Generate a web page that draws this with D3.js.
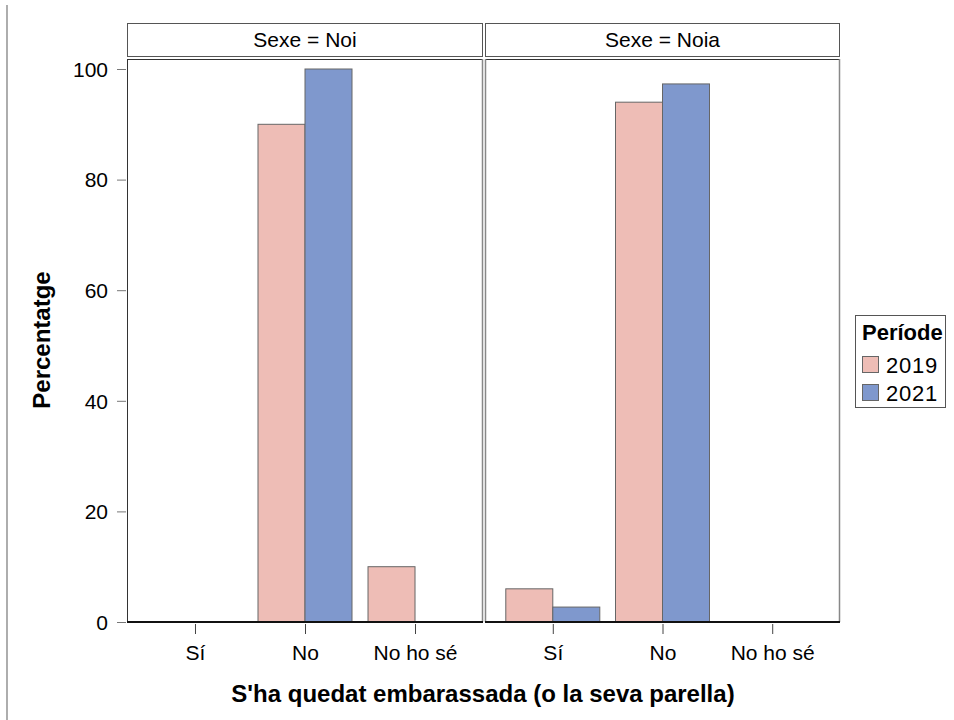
<!DOCTYPE html>
<html><head><meta charset="utf-8">
<script src="https://cdn.jsdelivr.net/npm/d3@7"></script>
<style>body{margin:0;background:#fff}svg{display:block;font-family:"Liberation Sans",Arial,sans-serif}</style>
</head><body><svg id="c" width="954" height="720"></svg>
<script>
const categories = ["Sí", "No", "No ho sé"];
const periods = ["2019", "2021"];
const panels = ["Noi", "Noia"];
const values2019 = { "Noi": [0, 90, 10], "Noia": [6, 94, 0] };
const values2021 = { "Noi": [0, 100, 0], "Noia": [2.7, 97.3, 0] };
const yTicks = [0, 20, 40, 60, 80, 100];
const colors = ["#EEBDB6", "#7F98CD"];

const svg = d3.select("#c");
const top0 = 59, bottom0 = 622;
const y = d3.scaleLinear().domain([0, 100]).range([622, 69]);
const color = d3.scaleOrdinal().domain(periods).range(colors);
const panelX = [[127, 483], [485, 840]];

// page left line
svg.append("line").attr("x1", 7).attr("x2", 7).attr("y1", 5).attr("y2", 720).attr("stroke", "#777").attr("stroke-width", 1.2);

panels.forEach((p, i) => {
  const [l, r] = panelX[i];
  const x0 = d3.scalePoint().domain(categories).range([l, r]).padding(0.618);
  const x1 = d3.scaleBand().domain(periods).range([-47, 47]);
  const g = svg.append("g");
  // strip header
  g.append("rect").attr("x", l + 0.5).attr("y", 23.5).attr("width", r - l - 1).attr("height", 33)
    .attr("fill", "#fff").attr("stroke", "#555").attr("stroke-width", 1);
  g.append("text").attr("x", (l + r) / 2).attr("y", 47).attr("text-anchor", "middle")
    .attr("font-size", 21).attr("fill", "#000").text("Sexe = " + p);
  // bars
  const data = [];
  categories.forEach((c, k) => {
    data.push({ c, period: "2019", v: values2019[p][k] });
    data.push({ c, period: "2021", v: values2021[p][k] });
  });
  g.selectAll("rect.bar").data(data.filter(d => d.v > 0)).join("rect").attr("class", "bar")
    .attr("x", d => x0(d.c) + x1(d.period))
    .attr("width", x1.bandwidth())
    .attr("y", d => y(d.v))
    .attr("height", d => y(0) - y(d.v))
    .attr("fill", d => color(d.period))
    .attr("stroke", "#666").attr("stroke-width", 1);
  // panel border
  g.append("line").attr("x1", l).attr("x2", r).attr("y1", top0 + 0.5).attr("y2", top0 + 0.5).attr("stroke", "#333");
  g.append("line").attr("x1", l + 0.5).attr("x2", l + 0.5).attr("y1", top0).attr("y2", bottom0).attr("stroke", i === 0 ? "#333" : "#888").attr("stroke-width", i === 0 ? 1 : 1.5);
  g.append("line").attr("x1", r - 0.5).attr("x2", r - 0.5).attr("y1", top0).attr("y2", bottom0).attr("stroke", "#888").attr("stroke-width", 1.5);
  // baseline
  g.append("line").attr("x1", l).attr("x2", r).attr("y1", y(0)).attr("y2", y(0)).attr("stroke", "#111").attr("stroke-width", 2);
  // x axis
  const xa = g.append("g").attr("transform", `translate(0,${bottom0 + 2})`)
    .call(d3.axisBottom(x0).tickSize(10).tickPadding(11));
  xa.select(".domain").remove();
  xa.selectAll(".tick line").attr("stroke", "#444");
  xa.selectAll(".tick text").attr("font-size", 21).attr("font-family", "Liberation Sans, Arial, sans-serif").attr("fill", "#000");
});

// y axis
const ya = svg.append("g").attr("transform", "translate(126,0)")
  .call(d3.axisLeft(y).tickValues(yTicks).tickSize(9).tickPadding(9));
ya.select(".domain").remove();
ya.selectAll(".tick line").attr("stroke", "#777");
ya.selectAll(".tick text").attr("font-size", 21).attr("font-family", "Liberation Sans, Arial, sans-serif").attr("fill", "#000").attr("dy", "0.35em");

// axis titles
svg.append("text").attr("transform", "translate(50,340) rotate(-90)").attr("text-anchor", "middle")
  .attr("font-size", 24).attr("font-weight", "bold").text("Percentatge");
svg.append("text").attr("x", 483).attr("y", 702).attr("text-anchor", "middle")
  .attr("font-size", 24).attr("font-weight", "bold").text("S'ha quedat embarassada (o la seva parella)");

// legend
const lg = svg.append("g");
lg.append("rect").attr("x", 855.5).attr("y", 315.5).attr("width", 90).attr("height", 92)
  .attr("fill", "#fff").attr("stroke", "#555");
lg.append("text").attr("x", 862).attr("y", 340).attr("font-size", 22).attr("font-weight", "bold").text("Període");
periods.forEach((pp, i) => {
  lg.append("rect").attr("x", 862.5).attr("y", 356.5 + i * 28).attr("width", 16).attr("height", 16)
    .attr("fill", color(pp)).attr("stroke", "#666");
  lg.append("text").attr("x", 886).attr("y", 372.5 + i * 28).attr("font-size", 22).attr("letter-spacing", 0.8).text(pp);
});
</script></body></html>
